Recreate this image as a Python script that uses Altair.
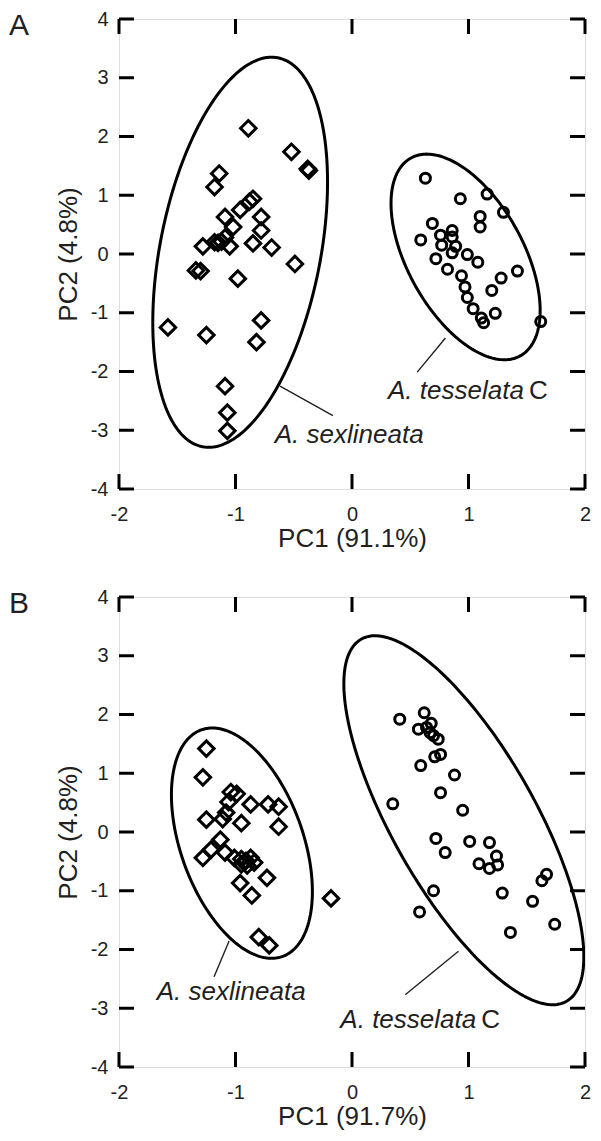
import altair as alt
import numpy as np
import pandas as pd

# ---------------- data ----------------
x_ticks = [-2, -1, 0, 1, 2]
y_ticks = [-4, -3, -2, -1, 0, 1, 2, 3, 4]

# Panel A : A. sexlineata (diamonds)
A_sex_x = [-0.89, -0.52, -0.38, -0.37, -1.14, -1.18, -0.85, -0.88, -0.96, -0.78,
           -1.09, -1.02, -0.78, -1.09, -1.15, -1.12, -1.18, -1.05, -1.28, -0.85,
           -0.69, -0.49, -1.34, -1.30, -0.98, -1.58, -1.25, -0.78, -0.82, -1.09,
           -1.07, -1.07]
A_sex_y = [2.14, 1.74, 1.45, 1.42, 1.37, 1.14, 0.94, 0.89, 0.75, 0.63,
           0.63, 0.46, 0.40, 0.28, 0.19, 0.21, 0.20, 0.13, 0.13, 0.18,
           0.11, -0.17, -0.28, -0.29, -0.42, -1.25, -1.38, -1.13, -1.50, -2.25,
           -2.70, -3.01]
# Panel A : A. tesselata C (circles)
A_tes_x = [0.63, 0.93, 1.16, 1.30, 1.10, 1.10, 0.69, 0.86, 0.86, 0.59,
           0.76, 0.77, 0.89, 0.86, 0.72, 0.99, 1.08, 0.82, 0.94, 0.97,
           1.28, 1.42, 1.20, 0.99, 1.04, 1.11, 1.13, 1.23, 1.62]
A_tes_y = [1.29, 0.94, 1.02, 0.71, 0.64, 0.46, 0.52, 0.40, 0.29, 0.24,
           0.32, 0.15, 0.13, 0.02, -0.08, -0.01, -0.14, -0.26, -0.37, -0.56,
           -0.41, -0.29, -0.62, -0.74, -0.93, -1.09, -1.17, -1.01, -1.15]

# Panel B : A. sexlineata (diamonds)
B_sex_x = [-1.25, -1.28, -1.04, -0.99, -1.06, -0.87, -0.72, -0.63, -1.08, -1.11,
           -1.25, -0.95, -0.63, -1.13, -1.21, -1.28, -1.09, -1.01, -0.95, -0.91,
           -0.87, -0.84, -0.90, -0.95, -0.96, -0.73, -0.86, -0.18, -0.80, -0.71]
B_sex_y = [1.42, 0.93, 0.68, 0.65, 0.51, 0.47, 0.47, 0.43, 0.33, 0.22,
           0.21, 0.15, 0.09, -0.13, -0.30, -0.44, -0.35, -0.44, -0.46, -0.49,
           -0.44, -0.52, -0.57, -0.55, -0.87, -0.78, -1.08, -1.13, -1.79, -1.93]
# Panel B : A. tesselata C (circles)
B_tes_x = [0.41, 0.62, 0.57, 0.64, 0.68, 0.67, 0.74, 0.70, 0.76, 0.71,
           0.59, 0.88, 0.76, 0.35, 0.95, 0.72, 0.80, 1.01, 1.18, 1.24,
           1.09, 1.18, 1.25, 1.67, 1.63, 1.29, 1.55, 0.70, 0.58, 1.36,
           1.74]
B_tes_y = [1.92, 2.03, 1.75, 1.78, 1.85, 1.69, 1.58, 1.64, 1.32, 1.28,
           1.13, 0.97, 0.67, 0.48, 0.37, -0.11, -0.35, -0.16, -0.18, -0.41,
           -0.54, -0.62, -0.56, -0.72, -0.83, -1.04, -1.18, -1.00, -1.36, -1.71,
           -1.57]

# Ellipses: centre x, centre y, half-extent x, half-extent y, correlation
A_sex_ell = [-0.96, 0.03, 0.75, 3.32, 0.36]
A_tes_ell = [0.975, -0.05, 0.64, 1.75, -0.52]
B_sex_ell = [-0.945, -0.19, 0.605, 1.96, -0.42]
B_tes_ell = [0.96, 0.20, 1.03, 3.14, -0.74]

# Leader lines (from ellipse to label): x, y, x2, y2
A_lead = [[-0.618, -2.25, -0.164, -2.75], [0.802, -1.43, 0.560, -2.01]]
B_lead = [[-1.055, -1.857, -1.184, -2.464], [0.914, -2.03, 0.457, -2.77]]

# Labels: x, y, text   (italic species name, roman "C")
A_ital = [[-0.663, -3.21, "A. sexlineata"], [0.309, -2.475, "A. tesselata"]]
A_roman = [[1.52, -2.475, "C"]]
B_ital = [[-1.676, -2.858, "A. sexlineata"], [-0.10, -3.33, "A. tesselata"]]
B_roman = [[1.11, -3.33, "C"]]

# ---------------- chart ----------------
W = 466
H = 470
TICK = 15
SW = 3
FONT = "Liberation Sans"
TXT = "#231f20"

xs = alt.Scale(domain=[-2, 2], nice=False, zero=False)
ys = alt.Scale(domain=[-4, 4], nice=False, zero=False)


def ellipse_df(params, g):
    cx, cy, sx, sy, r = params
    t = np.linspace(0, 2 * np.pi, 241)
    return pd.DataFrame({
        "g": g,
        "i": np.arange(len(t)),
        "x": cx + sx * np.cos(t),
        "y": cy + sy * (r * np.cos(t) + np.sqrt(1 - r * r) * np.sin(t)),
    })


def panel(letter, xtitle, sx_, sy_, tx_, ty_, ell1, ell2, lead, ital, roman):
    xax = alt.Axis(values=x_ticks, ticks=False, tickSize=0, domain=False, grid=False,
                   labelFontSize=20, labelPadding=15, labelFlush=False,
                   labelExpr="'' + datum.value", labelColor=TXT,
                   title=xtitle, titleFontSize=26, titleFontWeight="normal",
                   titlePadding=1, titleColor=TXT)
    yax = alt.Axis(values=y_ticks, ticks=False, tickSize=0, domain=False, grid=False,
                   labelFontSize=20, labelPadding=11, labelFlush=False,
                   labelExpr="'' + datum.value", labelColor=TXT,
                   title="PC2 (4.8%)", titleFontSize=26, titleFontWeight="normal",
                   titlePadding=9, titleColor=TXT)

    def X(f):
        return alt.X(f, type="quantitative", scale=xs, axis=xax)

    def Y(f):
        return alt.Y(f, type="quantitative", scale=ys, axis=yax)

    ell = pd.concat([ellipse_df(ell1, "a"), ellipse_df(ell2, "b")])
    ell_layer = alt.Chart(ell).mark_line(color="black", strokeWidth=SW, clip=True).encode(
        x=X("x"), y=Y("y"), detail="g:N", order="i:Q")

    dia = alt.Chart(pd.DataFrame({"x": sx_, "y": sy_})).mark_point(
        shape="diamond", filled=False, size=240, strokeWidth=SW, color="black",
        opacity=1).encode(x=X("x"), y=Y("y"))
    cir = alt.Chart(pd.DataFrame({"x": tx_, "y": ty_})).mark_point(
        shape="circle", filled=False, size=100, strokeWidth=SW, color="black",
        opacity=1).encode(x=X("x"), y=Y("y"))

    ld = pd.DataFrame(lead, columns=["x", "y", "x2", "y2"])
    lead_layer = alt.Chart(ld).mark_rule(color=TXT, strokeWidth=1.4).encode(
        x=X("x"), y=Y("y"), x2="x2", y2="y2")

    it = pd.DataFrame(ital, columns=["x", "y", "t"])
    it_layer = alt.Chart(it).mark_text(
        align="left", baseline="alphabetic", fontSize=26, fontStyle="italic",
        font=FONT, color=TXT).encode(x=X("x"), y=Y("y"), text="t:N")
    rm = pd.DataFrame(roman, columns=["x", "y", "t"])
    rm_layer = alt.Chart(rm).mark_text(
        align="left", baseline="alphabetic", fontSize=26,
        font=FONT, color=TXT).encode(x=X("x"), y=Y("y"), text="t:N")

    xt = pd.DataFrame({"v": x_ticks})
    yt = pd.DataFrame({"v": y_ticks})
    t_bot = alt.Chart(xt).mark_rule(color="black", strokeWidth=SW).encode(
        x=X("v"), y=alt.value(H - TICK), y2=alt.value(H))
    t_top = alt.Chart(xt).mark_rule(color="black", strokeWidth=SW).encode(
        x=X("v"), y=alt.value(0), y2=alt.value(TICK))
    t_left = alt.Chart(yt).mark_rule(color="black", strokeWidth=SW).encode(
        y=Y("v"), x=alt.value(0), x2=alt.value(TICK))
    t_right = alt.Chart(yt).mark_rule(color="black", strokeWidth=SW).encode(
        y=Y("v"), x=alt.value(W - TICK), x2=alt.value(W))

    let = alt.Chart(pd.DataFrame({"t": [letter]})).mark_text(
        align="left", baseline="alphabetic", fontSize=30, font=FONT,
        color=TXT).encode(x=alt.value(-110), y=alt.value(16), text="t:N")

    return alt.layer(ell_layer, dia, cir, lead_layer, it_layer, rm_layer,
                     t_bot, t_top, t_left, t_right, let).properties(width=W, height=H)


pA = panel("A", "PC1 (91.1%)", A_sex_x, A_sex_y, A_tes_x, A_tes_y,
           A_sex_ell, A_tes_ell, A_lead, A_ital, A_roman)
pB = panel("B", "PC1 (91.7%)", B_sex_x, B_sex_y, B_tes_x, B_tes_y,
           B_sex_ell, B_tes_ell, B_lead, B_ital, B_roman)

chart = alt.vconcat(pA, pB, spacing=34).properties(
    padding={"left": 0, "top": 0, "right": 0, "bottom": 0}
).configure_view(stroke="black", strokeWidth=SW).configure(
    font=FONT
).configure_axis(labelFont=FONT, titleFont=FONT)

chart.save("out.html", embed_options={"renderer": "svg", "actions": False})
